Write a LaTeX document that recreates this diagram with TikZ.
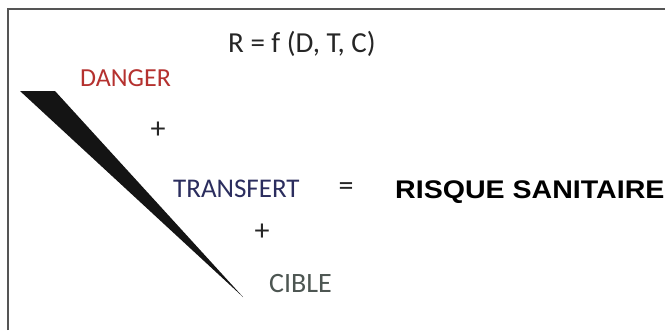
\documentclass[tikz,border=0pt]{standalone}
\usepackage{fontspec}
\setmainfont{Carlito}
\newfontfamily\arialfont{Liberation Sans}
\definecolor{dangerred}{HTML}{B5312F}
\definecolor{transnavy}{HTML}{2B2D5E}
\definecolor{ciblegrey}{HTML}{4D5652}
\definecolor{inkgrey}{HTML}{262626}
\definecolor{framegrey}{HTML}{555555}
\begin{document}
\begin{tikzpicture}[x=1pt,y=-1pt,
  lbl/.style={inner sep=0pt, anchor=base west, font=\fontsize{27}{29}\selectfont},
  sym/.style={inner sep=0pt, anchor=center, text=inkgrey, font=\fontsize{30}{32}\selectfont}]
\useasboundingbox[fill=white] (0,0) rectangle (665,330);
\draw[framegrey, line width=1.1pt] (8,330) -- (8,9) -- (665,9);
% wedge
\coordinate (w1) at (20,91);
\coordinate (w2) at (55,91);
\coordinate (tip) at (243,297);
\fill[black!92] (w1) -- (w2) -- (tip) -- cycle;
% texts
\node[lbl, text=inkgrey, font=\fontsize{29}{31}\selectfont] (eq) at (228,52) {R = f (D, T, C)};
\node[lbl, text=dangerred, font=\fontsize{26}{28}\selectfont] (danger) at (80,86) {DANGER};
\node[sym] (p1) at (158,130) {+};
\node[lbl, text=transnavy] (transfert) at (173,197) {TRANSFERT};
\node[sym] (eqs) at (346,189) {=};
\node[inner sep=0pt, anchor=base west, text=black] (risque) at (395,198)
  {\scalebox{1.12}[1]{\arialfont\bfseries\fontsize{25.5}{27}\selectfont RISQUE SANITAIRE}};
\node[sym] (p2) at (262,232) {+};
\node[lbl, text=ciblegrey, font=\fontsize{28}{30}\selectfont] (cible) at (269,292) {CIBLE};
\end{tikzpicture}
\end{document}
